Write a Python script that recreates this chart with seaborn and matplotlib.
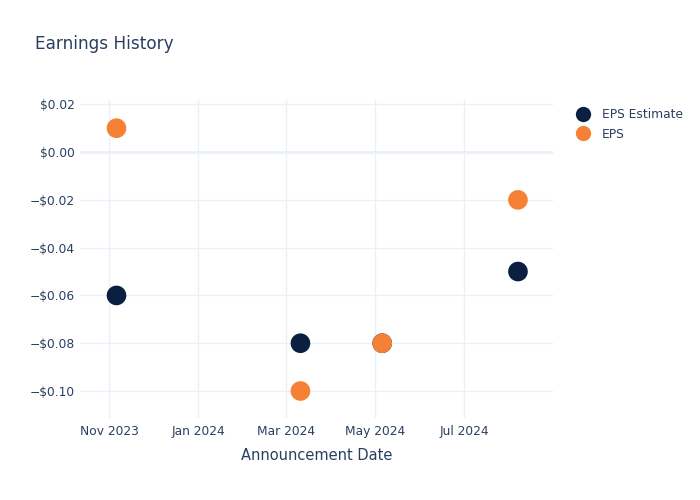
import matplotlib
matplotlib.use("Agg")
import matplotlib.pyplot as plt
from matplotlib.ticker import FuncFormatter, MultipleLocator
from matplotlib.lines import Line2D
import seaborn as sns
import pandas as pd

dates = ["2023-11-06", "2024-03-11", "2024-05-06", "2024-08-07"]
eps_estimate = [-0.06, -0.08, -0.08, -0.05]
eps_actual = [0.01, -0.10, -0.08, -0.02]
series_names = ["EPS Estimate", "EPS"]
x_tick_dates = ["2023-11-01", "2024-01-01", "2024-03-01", "2024-05-01", "2024-07-01"]
x_tick_labels = ["Nov 2023", "Jan 2024", "Mar 2024", "May 2024", "Jul 2024"]

df = pd.DataFrame({
    "date": pd.to_datetime(dates * 2),
    "value": eps_estimate + eps_actual,
    "series": [series_names[0]] * len(dates) + [series_names[1]] * len(dates),
})

sns.set_theme(style="white")
plt.rcParams["font.family"] = ["DejaVu Sans"]

text_color = "#2a3f5f"
grid_color = "#ebf0f8"
palette = {"EPS Estimate": "#0b1f41", "EPS": "#f58137"}

fig = plt.figure(figsize=(7, 5), dpi=100)
ax = fig.add_axes([80 / 700, 82 / 500, 473 / 700, 318 / 500])

sns.scatterplot(data=df, x="date", y="value", hue="series", palette=palette,
                s=200, linewidth=0, ax=ax, legend=False, zorder=3)

ax.set_xlim(pd.Timestamp("2023-10-12"), pd.Timestamp("2024-08-31"))
ax.set_ylim(-0.1113, 0.0218)

ax.set_xticks(pd.to_datetime(x_tick_dates))
ax.set_xticklabels(x_tick_labels)
ax.yaxis.set_major_locator(MultipleLocator(0.02))

def fmt(v, pos):
    v = round(v, 4)
    if abs(v) < 1e-9:
        return "$0.00"
    if v < 0:
        return "\u2212$" + f"{abs(v):.2f}"
    return "$" + f"{v:.2f}"

ax.yaxis.set_major_formatter(FuncFormatter(fmt))

for s in ax.spines.values():
    s.set_visible(False)
ax.grid(True, color=grid_color, linewidth=1, zorder=0)
ax.axhline(0, color=grid_color, linewidth=2, zorder=1)
ax.tick_params(axis="both", length=0, colors=text_color, labelsize=8.8)
ax.tick_params(axis="y", pad=4)
ax.tick_params(axis="x", pad=5)

ax.set_xlabel("Announcement Date", color=text_color, fontsize=10.5, labelpad=7)
ax.set_ylabel("")

fig.text(35 / 700, 1 - 44 / 500, "Earnings History", color=text_color,
         fontsize=12.2, va="center", ha="left")

handles = [Line2D([0], [0], marker="o", linestyle="", markersize=11,
                  markerfacecolor=palette[n], markeredgewidth=0, label=n)
           for n in series_names]
leg = fig.legend(handles=handles, loc="upper left",
                 bbox_to_anchor=(571 / 700, 1 - 103 / 500), frameon=False,
                 fontsize=8.8, handletextpad=0.9, labelspacing=0.55,
                 borderaxespad=0, handlelength=1.2)
for t in leg.get_texts():
    t.set_color(text_color)

fig.savefig("out.png", dpi=100)
